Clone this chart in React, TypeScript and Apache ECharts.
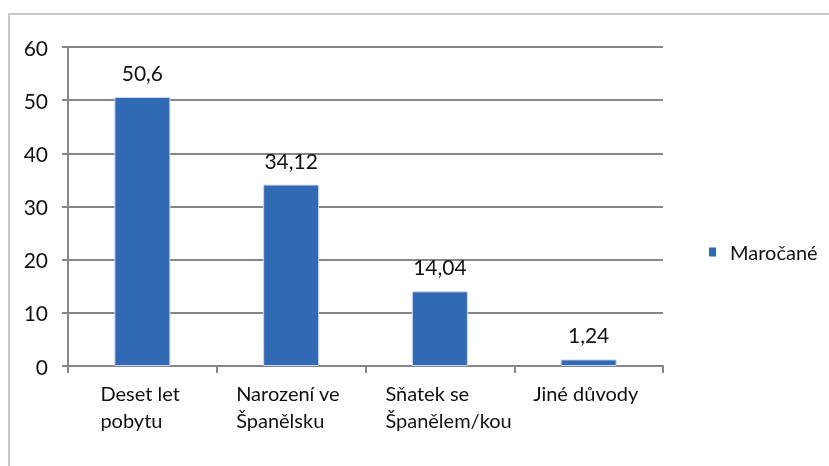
import React, { useEffect, useRef } from "react";
import * as echarts from "echarts";

const categories = ["Deset let\npobytu", "Narození ve\nŠpanělsku", "Sňatek se\nŠpanělem/kou", "Jiné důvody"];
const seriesName = "Maročané";
const values = [50.6, 34.12, 14.04, 1.24];
const yTicks = [0, 10, 20, 30, 40, 50, 60];

const FONT = "Lato, 'Open Sans', sans-serif";
const FS = 21;

export default function App() {
  const ref = useRef<HTMLDivElement>(null);
  useEffect(() => {
    if (!ref.current) return;
    const chart = echarts.init(ref.current, undefined, { renderer: "svg" });
    const cv = document.createElement("canvas");
    const ctx = cv.getContext("2d")!;
    ctx.font = FS + "px Lato";
    const shifts = [0, 0, 24, 0];
    const rich: Record<string, any> = {};
    categories.forEach((c, i) => {
      const w = Math.max(...c.split("\n").map((l) => ctx.measureText(l).width));
      rich["c" + i] = {
        width: Math.ceil(w),
        align: "left",
        fontSize: FS - 1,
        lineHeight: 27,
        fontFamily: FONT,
        color: "#111",
        padding: [0, 0, 0, shifts[i]],
      };
    });
    chart.setOption({
      animation: false,
      graphic: [
        {
          type: "rect",
          shape: { x: 9, y: 14, width: 840, height: 480 },
          style: { fill: "none", stroke: "#C8C8C8", lineWidth: 2 },
          silent: true,
        },
      ],
      legend: {
        left: 704,
        top: 237,
        icon: "rect",
        itemWidth: 7,
        itemHeight: 9,
        data: [seriesName],
        itemStyle: { borderWidth: 0 },
        textStyle: { fontSize: FS - 1, fontFamily: FONT, color: "#111", padding: [0, 0, 0, 9] },
      },
      grid: { left: 68, right: 166, top: 47, bottom: 100 },
      xAxis: {
        type: "category",
        data: categories,
        axisLine: { lineStyle: { color: "#868686", width: 2 } },
        axisTick: { show: true, length: 7, lineStyle: { color: "#868686", width: 2 } },
        axisLabel: {
          margin: 13,
          interval: 0,
          formatter: (v: string, i: number) =>
            v.split("\n").map((l) => `{c${i}|${l}}`).join("\n"),
          rich,
        },
      },
      yAxis: {
        type: "value",
        min: yTicks[0],
        max: yTicks[yTicks.length - 1],
        interval: 10,
        axisLine: { show: true, lineStyle: { color: "#868686", width: 2 } },
        axisTick: { show: true, length: 6, lineStyle: { color: "#868686", width: 2 } },
        splitLine: { lineStyle: { color: "#868686", width: 2 } },
        axisLabel: { fontSize: FS, fontFamily: FONT, color: "#111", margin: 20 },
      },
      series: [
        {
          type: "bar",
          name: seriesName,
          data: values,
          barWidth: 56,
          itemStyle: { color: "#3269B4", borderColor: "#c9d6ea", borderWidth: 1 },
          label: {
            show: true,
            position: "top",
            distance: 14,
            fontSize: FS,
            fontFamily: FONT,
            color: "#111",
            formatter: (p: any) => String(p.value).replace(".", ","),
          },
        },
      ],
    });
    return () => chart.dispose();
  }, []);
  return <div ref={ref} style={{ position: "fixed", left: 0, top: 0, width: 829, height: 466 }} />;
}
